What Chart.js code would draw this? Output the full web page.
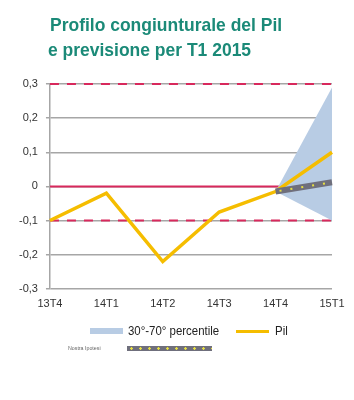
<!DOCTYPE html>
<html>
<head>
<meta charset="utf-8">
<script src="https://cdn.jsdelivr.net/npm/chart.js@4"></script>
<style>
  body { margin: 0; background: #fff; }
  #wrap { position: relative; width: 354px; height: 400px; overflow: hidden; }
  #chart { position: absolute; left: 0; top: 0; }
  .title { position: absolute; color: #1b8a78; font: bold 19px "Liberation Sans", Arial, sans-serif; white-space: nowrap; transform: scaleX(0.92); transform-origin: left top; }
  .leg { position: absolute; font: 13px "Liberation Sans", Arial, sans-serif; color: #222; white-space: nowrap; transform: scaleX(0.88); transform-origin: left top; }
</style>
</head>
<body>
<div id="wrap">
  <canvas id="chart" width="354" height="400"></canvas>
  <div class="title" style="left:50px; top:14px;">Profilo congiunturale del Pil</div>
  <div class="title" style="left:48px; top:39px;">e previsione per T1 2015</div>
  <div style="position:absolute; left:90px; top:328px; width:33px; height:6px; background:#b8cce4;"></div>
  <div class="leg" style="left:128px; top:323px;">30°-70° percentile</div>
  <div style="position:absolute; left:236px; top:330px; width:33px; height:3px; background:#f5bd00;"></div>
  <div class="leg" style="left:275px; top:323px;">Pil</div>
  <div class="leg" style="left:68px; top:345px; font-size:6px; color:#666;">Nostra Ipotesi</div>
  <div style="position:absolute; left:127px; top:346px; width:85px; height:5px; background:#6f6f7c radial-gradient(circle, #e8e040 1px, transparent 1.5px) 0 0 / 9px 5px;"></div>
</div>
<script>
const categories = ['13T4', '14T1', '14T2', '14T3', '14T4', '15T1']
const pil = [-0.1, -0.02, -0.22, -0.075, -0.015, 0.1]
const bandHigh = [null, null, null, null, -0.015, 0.29]
const bandLow = [null, null, null, null, -0.015, -0.1]
const nostraIpotesi = [null, null, null, null, -0.015, 0.012]
const refUpper = [0.3, 0.3, 0.3, 0.3, 0.3, 0.3]
const refZero = [0, 0, 0, 0, 0, 0]
const refLower = [-0.1, -0.1, -0.1, -0.1, -0.1, -0.1]

const RED = '#d8285c'
const FONT = "'Liberation Sans', Arial, sans-serif"

const flat = (data, dash, order) => ({
  data,
  order,
  clip: 4,
  borderColor: RED,
  borderWidth: 2,
  borderDash: dash,
  pointRadius: 0,
  fill: false
})

// lower order is drawn on top
new Chart(document.getElementById('chart'), {
  type: 'line',
  data: {
    labels: categories,
    datasets: [
      { data: bandHigh, order: 5, borderWidth: 0, pointRadius: 0, backgroundColor: '#b8cce4', fill: '+1' },
      { data: bandLow, order: 5, borderWidth: 0, pointRadius: 0, fill: false },
      flat(refUpper, [9, 8], 6),
      flat(refLower, [9, 8], 6),
      flat(refZero, [], 6),
      { data: pil, order: 3, borderColor: '#f5bd00', borderWidth: 3.5, pointRadius: 0, fill: false },
      { data: nostraIpotesi, order: 2, borderColor: '#6f6f7c', borderWidth: 6, pointRadius: 0, fill: false },
      { data: nostraIpotesi, order: 1, borderColor: '#e8e040', borderWidth: 2, borderDash: [2, 9], borderDashOffset: -4, pointRadius: 0, fill: false }
    ]
  },
  options: {
    responsive: false,
    animation: false,
    layout: { padding: { top: 84, left: 11, right: 22, bottom: 88 } },
    plugins: { legend: { display: false }, tooltip: { enabled: false } },
    scales: {
      x: {
        offset: false,
        grid: { display: false },
        border: { display: false },
        ticks: { color: '#333', font: { family: FONT, size: 11 }, maxRotation: 0, padding: 1 }
      },
      y: {
        min: -0.3,
        max: 0.3,
        grid: { color: '#a6a6a6', lineWidth: 1.5, drawTicks: true, tickLength: 4 },
        border: { color: '#a6a6a6', width: 1.5 },
        ticks: {
          stepSize: 0.1,
          padding: 8,
          color: '#333',
          font: { family: FONT, size: 11 },
          callback: (v) => {
            const r = Math.round(v * 10) / 10
            return r === 0 ? '0' : r.toFixed(1).replace('.', ',')
          }
        }
      }
    }
  }
})
</script>
</body>
</html>
